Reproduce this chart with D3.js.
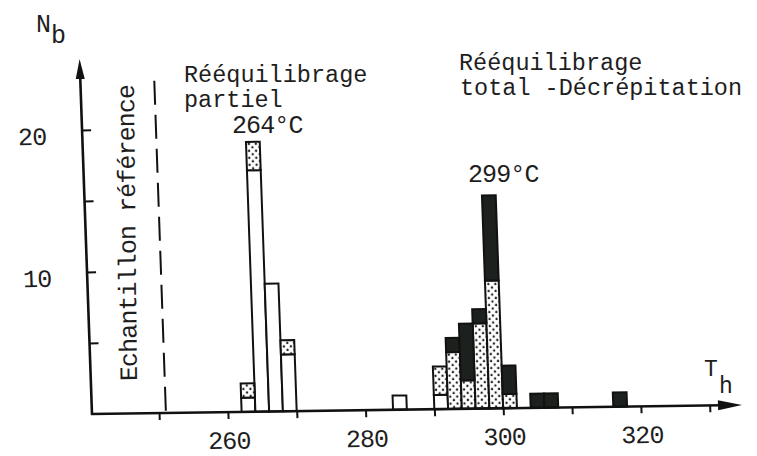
<!DOCTYPE html>
<html>
<head>
<meta charset="utf-8">
<script src="https://cdn.jsdelivr.net/npm/d3@7"></script>
<style>
  body { margin: 0; background: #fff; }
  text { font-family: "Liberation Mono", "DejaVu Sans Mono", monospace; fill: #1e1e1e; letter-spacing: -0.9px; }
  text.block { letter-spacing: 0; }
</style>
</head>
<body>
<div id="chart"></div>
<script>
// data (bins are 2 degrees wide, Th in degC)
const bins = [262, 264, 266, 268, 284, 290, 292, 294, 296, 298, 300, 304, 306, 316];
const binWidth = 2;
const whiteCounts  = [1, 17, 9, 4, 1, 1, 0, 0, 0, 0, 0, 0, 0, 0];
const dottedCounts = [1, 2, 0, 1, 0, 2, 4, 2, 6, 9, 1, 0, 0, 0];
const blackCounts  = [0, 0, 0, 0, 0, 0, 1, 4, 1, 6, 2, 1, 1, 1];
const xTicks = [250, 260, 270, 280, 290, 300, 310, 320, 330];
const xLabels = [260, 280, 300, 320];
const yTicks = [5, 10, 15, 20];
const yLabels = [10, 20];
const refTemp = 251;     // "Echantillon référence" dashed line
const refTop = 23.4;

const W = 757, H = 456;

const svg = d3.select("#chart").append("svg")
    .attr("width", W)
    .attr("height", H);

// stipple pattern
const defs = svg.append("defs");
const pat = defs.append("pattern")
    .attr("id", "dots")
    .attr("patternUnits", "userSpaceOnUse")
    .attr("width", 7)
    .attr("height", 7);
pat.append("rect").attr("width", 7).attr("height", 7).attr("fill", "#fff");
pat.append("circle").attr("cx", 1.7).attr("cy", 1.7).attr("r", 1.2).attr("fill", "#222");
pat.append("circle").attr("cx", 5.2).attr("cy", 5.2).attr("r", 1.2).attr("fill", "#222");

// the scanned figure is slightly skewed, so the plot frame is too
const g = svg.append("g")
    .attr("transform", "translate(92,414) matrix(1,-0.014,0.035,1,0,0)");

const x = d3.scaleLinear().domain([240.26, 334.7]).range([0, 650]);
const y = d3.scaleLinear().domain([0, 25]).range([0, -355]);

// bars
const table = bins.map((b, i) => ({
    bin: b, white: whiteCounts[i], dotted: dottedCounts[i], black: blackCounts[i]
}));
const series = d3.stack().keys(["white", "dotted", "black"])(table);
const fills = { white: "#fff", dotted: "url(#dots)", black: "#1d211e" };

series.forEach(s => {
    g.append("g")
        .selectAll("rect")
        .data(s.filter(d => d[1] > d[0]))
        .enter().append("rect")
        .attr("x", d => x(d.data.bin))
        .attr("width", d => x(d.data.bin + binWidth) - x(d.data.bin))
        .attr("y", d => y(d[1]))
        .attr("height", d => y(d[0]) - y(d[1]))
        .attr("fill", fills[s.key])
        .attr("stroke", "#111")
        .attr("stroke-width", 2);
});

const fs = "25px";
const font = '"Liberation Mono", "DejaVu Sans Mono", monospace';

// x axis
const xAxis = g.append("g")
    .call(d3.axisBottom(x)
        .tickValues(xTicks)
        .tickSize(7)
        .tickPadding(12)
        .tickFormat(d => xLabels.includes(d) ? d : ""));
xAxis.select(".domain").remove();
xAxis.selectAll("line").attr("stroke", "#111").attr("stroke-width", 2);
xAxis.selectAll("text").style("font-size", fs).style("font-family", font);

// y axis
const yAxis = g.append("g")
    .call(d3.axisLeft(y)
        .tickValues(yTicks)
        .tickSize(-9)
        .tickPadding(36)
        .tickFormat(d => yLabels.includes(d) ? d : ""));
yAxis.select(".domain").remove();
yAxis.selectAll("line").attr("stroke", "#111").attr("stroke-width", 2);
yAxis.selectAll("text").attr("dy", "0.55em").style("font-size", fs).style("font-family", font);

// axis lines with arrows
const xEnd = x.range()[1], yEnd = y.range()[1];
g.append("line")
    .attr("x1", -1).attr("y1", 0).attr("x2", xEnd - 20).attr("y2", 0)
    .attr("stroke", "#111").attr("stroke-width", 2.6);
g.append("path")
    .attr("d", `M${xEnd},0 L${xEnd - 24},-5 L${xEnd - 24},5 Z`)
    .attr("fill", "#111");
g.append("line")
    .attr("x1", 0).attr("y1", 1).attr("x2", 0).attr("y2", yEnd + 16)
    .attr("stroke", "#111").attr("stroke-width", 2.6);
g.append("path")
    .attr("d", `M0,${yEnd} L-4.5,${yEnd + 20} L4.5,${yEnd + 20} Z`)
    .attr("fill", "#111");

// reference sample dashed line
g.append("line")
    .attr("x1", x(refTemp)).attr("x2", x(refTemp))
    .attr("y1", y(refTop)).attr("y2", y(0))
    .attr("stroke", "#111")
    .attr("stroke-width", 2)
    .attr("stroke-dasharray", "24,10");

// annotations
const fsBlock = "23.5px";
svg.append("text").attr("class", "block").attr("x", 184).attr("y", 82).style("font-size", fsBlock).text("Rééquilibrage");
svg.append("text").attr("class", "block").attr("x", 184).attr("y", 107).style("font-size", fsBlock).text("partiel");
svg.append("text").attr("x", 232).attr("y", 133).style("font-size", fs).text("264°C");
svg.append("text").attr("class", "block").attr("x", 459).attr("y", 70).style("font-size", fsBlock).text("Rééquilibrage");
svg.append("text").attr("class", "block").attr("x", 460).attr("y", 95).style("font-size", fsBlock).text("total -Décrépitation");
svg.append("text").attr("x", 468).attr("y", 182).style("font-size", fs).text("299°C");
svg.append("text")
    .attr("transform", "translate(137,381) rotate(-90.6)")
    .style("font-size", fs)
    .text("Echantillon référence");

// axis names
svg.append("text").attr("x", 36).attr("y", 32).style("font-size", fs).text("N");
svg.append("text").attr("x", 51).attr("y", 43).style("font-size", fs).text("b");
svg.append("text").attr("x", 704).attr("y", 376).style("font-size", "23px").text("T");
svg.append("text").attr("x", 719).attr("y", 393).style("font-size", "23px").text("h");
</script>
</body>
</html>
